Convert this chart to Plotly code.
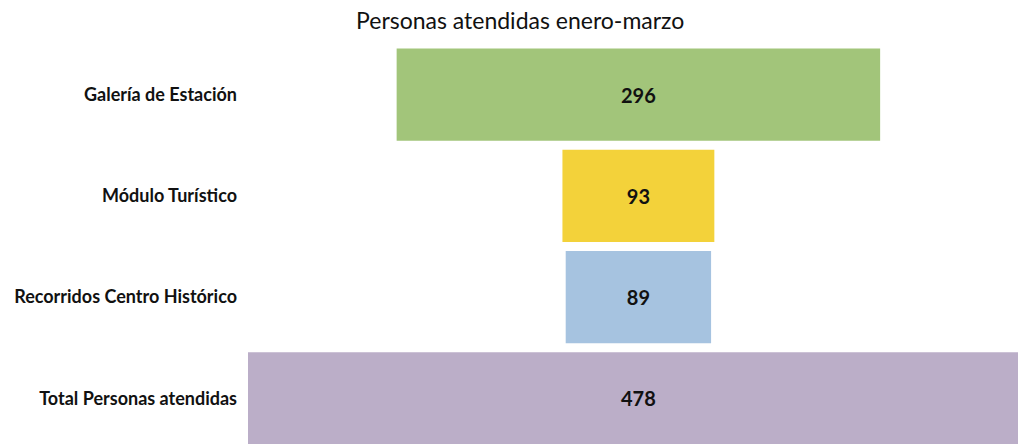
import plotly.graph_objects as go

categories = ["Galería de Estación", "Módulo Turístico", "Recorridos Centro Histórico", "Total Personas atendidas"]
values = [296, 93, 89, 478]
colors = ["#a2c57a", "#f3d23a", "#a6c3e0", "#bbaec8"]
title = "Personas atendidas enero-marzo"

fig = go.Figure(go.Funnel(
    y=categories,
    x=values,
    text=[str(v) for v in values],
    textinfo="text",
    textposition="inside",
    textfont=dict(family="Lato", size=20, color="#111111", weight="bold"),
    insidetextanchor="middle",
    marker=dict(color=colors, line=dict(width=0)),
    connector=dict(visible=False),
    constraintext="none",
))

fig.update_layout(
    width=1018, height=444,
    margin=dict(l=248, r=0, t=44, b=0),
    paper_bgcolor="white", plot_bgcolor="white",
    title=dict(text=title, x=0.511, xanchor="center", y=0.953, yanchor="middle",
               font=dict(family="Lato", size=23, color="#111111")),
    funnelgap=0.09,
    showlegend=False,
    xaxis=dict(range=[-239, 232.4], visible=False),
    yaxis=dict(range=[3.45, -0.5], autorange=False, showgrid=False, showline=False,
               ticks="", ticklabelstandoff=10,
               tickfont=dict(family="Lato", size=18, color="#111111", weight="bold")),
)

fig.write_html("out.html")
